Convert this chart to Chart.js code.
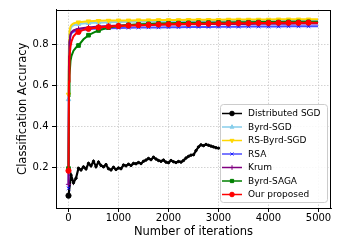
<!DOCTYPE html>
<html>
<head>
<meta charset="utf-8">
<script src="https://cdn.jsdelivr.net/npm/chart.js@4/dist/chart.umd.min.js"></script>
<style>
  html, body { margin: 0; padding: 0; background: #fff; }
  #wrap { width: 339px; height: 244px; }
</style>
</head>
<body>
<div id="wrap"><canvas id="accChart" width="339" height="244"></canvas></div>
<script>
// iteration grid shared by the converging methods
const iters = [0, 10, 20, 40, 60, 100, 150, 200, 300, 400, 500, 600, 800,
  1000, 1200, 1400, 1600, 1800, 2000, 2200, 2400, 2600, 2800, 3000,
  3200, 3400, 3600, 3800, 4000, 4200, 4400, 4600, 4800, 4990];

const byrdSgd = [0.533, 0.80, 0.85, 0.875, 0.885, 0.893, 0.897, 0.899, 0.902, 0.904, 0.905, 0.906, 0.908,
  0.909, 0.910, 0.910, 0.911, 0.911, 0.912, 0.912, 0.912, 0.913, 0.913, 0.913,
  0.914, 0.914, 0.914, 0.914, 0.915, 0.915, 0.915, 0.915, 0.916, 0.916];
const rsByrdSgd = [0.557, 0.82, 0.865, 0.887, 0.895, 0.902, 0.906, 0.908, 0.911, 0.913, 0.914, 0.915, 0.916,
  0.917, 0.917, 0.918, 0.918, 0.919, 0.919, 0.919, 0.920, 0.920, 0.920, 0.920,
  0.921, 0.921, 0.921, 0.921, 0.921, 0.922, 0.922, 0.922, 0.922, 0.922];
const rsa = [0.100, 0.74, 0.81, 0.845, 0.855, 0.862, 0.866, 0.868, 0.872, 0.874, 0.876, 0.877, 0.879,
  0.880, 0.881, 0.882, 0.883, 0.883, 0.884, 0.884, 0.885, 0.885, 0.885, 0.886,
  0.886, 0.886, 0.887, 0.887, 0.887, 0.887, 0.888, 0.888, 0.888, 0.888];
const krum = [0.120, 0.74, 0.81, 0.848, 0.860, 0.868, 0.873, 0.876, 0.880, 0.883, 0.885, 0.887, 0.890,
  0.892, 0.893, 0.894, 0.895, 0.896, 0.897, 0.897, 0.898, 0.898, 0.899, 0.899,
  0.900, 0.900, 0.900, 0.901, 0.901, 0.901, 0.901, 0.902, 0.902, 0.902];
const byrdSaga = [0.197, 0.55, 0.65, 0.72, 0.745, 0.77, 0.785, 0.795, 0.825, 0.845, 0.858, 0.868, 0.882,
  0.890, 0.895, 0.898, 0.900, 0.902, 0.903, 0.904, 0.905, 0.906, 0.906, 0.907,
  0.907, 0.908, 0.908, 0.909, 0.909, 0.909, 0.910, 0.910, 0.910, 0.910];
const ours = [0.186, 0.62, 0.74, 0.79, 0.815, 0.84, 0.853, 0.861, 0.871, 0.876, 0.880, 0.883, 0.887,
  0.890, 0.892, 0.894, 0.895, 0.897, 0.898, 0.899, 0.900, 0.901, 0.901, 0.902,
  0.902, 0.903, 0.903, 0.904, 0.904, 0.905, 0.905, 0.905, 0.906, 0.906];

// distributed SGD, logged every 50 iterations up to 3000
const sgdIters = [0, 50, 100, 150, 200, 250, 300, 350, 400, 450, 500, 550, 600, 650, 700, 750,
  800, 850, 900, 950, 1000, 1050, 1100, 1150, 1200, 1250, 1300, 1350, 1400, 1450, 1500,
  1550, 1600, 1650, 1700, 1750, 1800, 1850, 1900, 1950, 2000, 2050, 2100, 2150, 2200,
  2250, 2300, 2350, 2400, 2450, 2500, 2550, 2600, 2650, 2700, 2750, 2800, 2850, 2900,
  2950, 3000];
const distSgd = [0.065, 0.165, 0.128, 0.150, 0.198, 0.190, 0.205, 0.195, 0.222, 0.210, 0.232, 0.206, 0.228,
  0.212, 0.205, 0.216, 0.196, 0.190, 0.203, 0.192, 0.200, 0.196, 0.214, 0.210, 0.218,
  0.212, 0.222, 0.220, 0.226, 0.221, 0.232, 0.238, 0.246, 0.240, 0.252, 0.243, 0.236,
  0.232, 0.238, 0.228, 0.225, 0.236, 0.230, 0.226, 0.231, 0.228, 0.236, 0.248, 0.256,
  0.262, 0.264, 0.284, 0.302, 0.312, 0.308, 0.314, 0.310, 0.306, 0.302, 0.298, 0.296];

const xTickVals = [0, 1000, 2000, 3000, 4000, 5000];
const yTickVals = [0.2, 0.4, 0.6, 0.8];

function pts(xs, ys) {
  return xs.map((x, i) => ({ x: x, y: ys[i] }));
}

function series(label, xs, ys, color, style, rot, order) {
  return {
    label: label,
    data: pts(xs, ys),
    borderColor: color,
    backgroundColor: color,
    borderWidth: 2,
    pointStyle: style,
    pointRotation: rot,
    pointRadius: c => (c.raw && c.raw.x % 200 === 0 ? 2.6 : 0),
    pointBorderColor: color,
    pointBackgroundColor: color,
    pointBorderWidth: 1,
    tension: 0,
    order: order
  };
}

const datasets = [
  series("Distributed SGD", sgdIters, distSgd, "#000000", "circle", 0, 6),
  series("Byrd-SGD", iters, byrdSgd, "#87ceeb", "triangle", 0, 5),
  series("RS-Byrd-SGD", iters, rsByrdSgd, "#ffd700", "triangle", 180, 4),
  series("RSA", iters, rsa, "rgba(0,0,255,0.7)", "crossRot", 0, 3),
  series("Krum", iters, krum, "#800080", "cross", 0, 2),
  series("Byrd-SAGA", iters, byrdSaga, "#008000", "rect", 0, 1),
  series("Our proposed", iters, ours, "#ff0000", "circle", 0, 0)
];
datasets[0].borderWidth = 2.2;
datasets[0].pointRadius = c => (c.raw && c.raw.x === 0 ? 2.6 : 1.2);

// box round the axes plus a matplotlib-like legend in the lower right
const frameLegend = {
  id: "frameLegend",
  afterDraw(chart) {
    const ctx = chart.ctx;
    const a = chart.chartArea;
    ctx.save();
    ctx.strokeStyle = "#000";
    ctx.lineWidth = 1;
    ctx.strokeRect(Math.round(a.left) + 0.5, Math.round(a.top) + 0.5,
      Math.round(a.right - a.left) - 1, Math.round(a.bottom - a.top) - 1);

    const bx = 220, by = 104, bw = 107, bh = 98;
    ctx.beginPath();
    ctx.roundRect(bx + 0.5, by + 0.5, bw, bh, 3);
    ctx.fillStyle = "rgba(255,255,255,0.85)";
    ctx.fill();
    ctx.strokeStyle = "#cccccc";
    ctx.stroke();

    ctx.font = "9px 'DejaVu Sans'";
    ctx.textBaseline = "middle";
    ctx.textAlign = "left";
    chart.data.datasets.forEach((ds, i) => {
      const y = by + 9.5 + i * 13.5;
      ctx.strokeStyle = ds.borderColor;
      ctx.lineWidth = 1.5;
      ctx.beginPath();
      ctx.moveTo(bx + 2, y);
      ctx.lineTo(bx + 22, y);
      ctx.stroke();
      ctx.fillStyle = ds.borderColor;
      ctx.lineWidth = 1;
      Chart.helpers.drawPoint(ctx, {
        pointStyle: ds.pointStyle,
        rotation: ds.pointRotation,
        radius: 2.3,
        borderWidth: 1
      }, bx + 12, y);
      ctx.fillStyle = "#000";
      ctx.fillText(ds.label, bx + 28, y + 0.5);
    });
    ctx.restore();
  }
};

const tickFont = { family: "'DejaVu Sans'", size: 10 };
const titleFont = { family: "'DejaVu Sans'", size: 11.5 };

const chart = new Chart(document.getElementById("accChart").getContext("2d"), {
  type: "line",
  data: { datasets: datasets },
  options: {
    responsive: false,
    animation: false,
    devicePixelRatio: 1,
    layout: { padding: { top: 2, right: 8, left: 0, bottom: 0 } },
    plugins: { legend: { display: false }, tooltip: { enabled: false } },
    scales: {
      x: {
        type: "linear",
        min: -250,
        max: 5250,
        afterBuildTicks: s => { s.ticks = xTickVals.map(v => ({ value: v })); },
        afterFit: s => { s.height = 36; },
        ticks: { font: tickFont, color: "#000", padding: 0, maxRotation: 0, callback: v => String(v) },
        grid: { color: "#c8c8c8", lineWidth: 0.8, tickLength: 4, tickColor: "#000", tickWidth: 1, tickBorderDash: [] },
        border: { color: "#000", width: 1, dash: [1.5, 1.5] },
        title: { display: true, text: "Number of iterations", font: titleFont, color: "#000", padding: { top: 0, bottom: 5 } }
      },
      y: {
        type: "linear",
        min: 0.005,
        max: 0.97,
        afterBuildTicks: s => { s.ticks = yTickVals.map(v => ({ value: v })); },
        afterFit: s => { s.width = 56; },
        ticks: { font: tickFont, color: "#000", padding: 3.5, callback: v => v.toFixed(1) },
        grid: { color: "#c8c8c8", lineWidth: 0.8, tickLength: 4, tickColor: "#000", tickWidth: 1, tickBorderDash: [] },
        border: { color: "#000", width: 1, dash: [1.5, 1.5] },
        title: { display: true, text: "Classification Accuracy", font: titleFont, color: "#000", padding: { top: 16.5, bottom: 0 } }
      }
    }
  },
  plugins: [frameLegend]
});
</script>
</body>
</html>
